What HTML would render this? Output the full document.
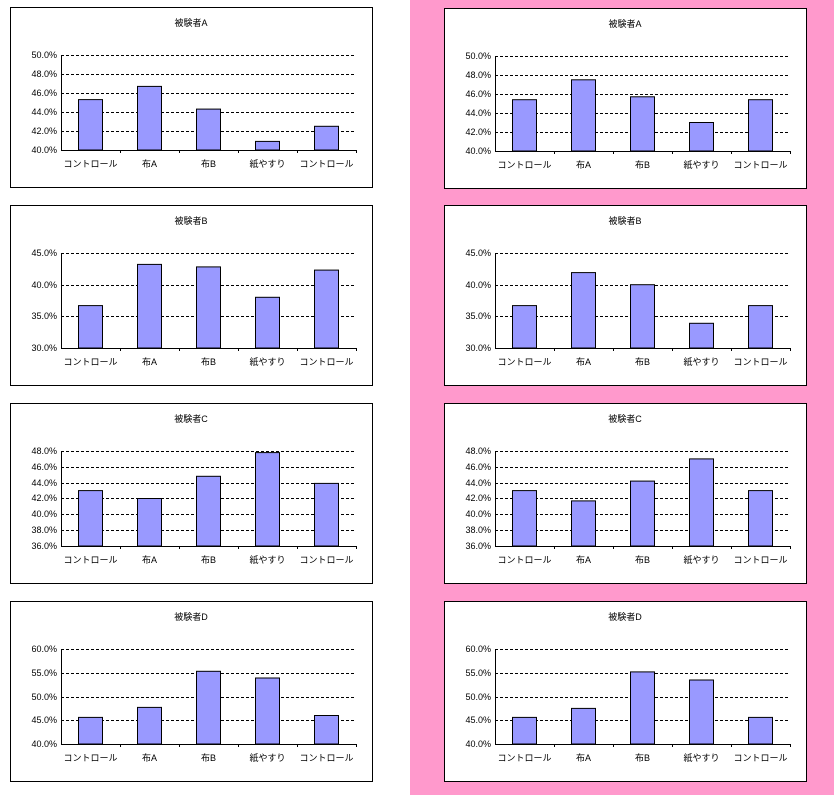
<!DOCTYPE html>
<html><head><meta charset="utf-8"><style>
html,body{margin:0;padding:0;background:#fff;}
body{width:834px;height:795px;position:relative;overflow:hidden;font-family:"Liberation Sans","Noto Sans CJK JP",sans-serif;}
.pink{position:absolute;left:410px;top:0;width:424px;height:795px;background:#ff99cc;}
svg{position:absolute;}
text{font-family:"Liberation Sans","Noto Sans CJK JP",sans-serif;font-size:9px;fill:#000;}
.g{stroke:#000;stroke-width:1;stroke-dasharray:3,2;}
.b{fill:#9999ff;stroke:#000;stroke-width:1;}
.a{stroke:#000;stroke-width:1;fill:none;}
</style></head><body>
<div class="pink"></div>

<!-- Left A -->
<svg style="left:10px;top:7px" width="363" height="181">
<rect x="0.5" y="0.5" width="362" height="180" fill="#fff" stroke="#000"/>
<text x="181" y="19" text-anchor="middle">被験者A</text>
<line class="g" x1="51" y1="48.5" x2="346" y2="48.5"/><line class="g" x1="51" y1="67.5" x2="346" y2="67.5"/><line class="g" x1="51" y1="86.5" x2="346" y2="86.5"/><line class="g" x1="51" y1="105.5" x2="346" y2="105.5"/><line class="g" x1="51" y1="124.5" x2="346" y2="124.5"/>
<text x="47" y="51" text-anchor="end">50.0%</text><text x="47" y="70" text-anchor="end">48.0%</text><text x="47" y="89" text-anchor="end">46.0%</text><text x="47" y="108" text-anchor="end">44.0%</text><text x="47" y="127" text-anchor="end">42.0%</text><text x="47" y="146" text-anchor="end">40.0%</text>
<rect class="b" x="68.5" y="92.6" width="24" height="50.4"/><rect class="b" x="127.5" y="79.4" width="24" height="63.6"/><rect class="b" x="186.5" y="102.1" width="24" height="40.9"/><rect class="b" x="245.5" y="134.4" width="24" height="8.6"/><rect class="b" x="304.5" y="119.3" width="24" height="23.7"/>
<path class="a" d="M51.5 48V143.5H346M110.5 143v3M169.5 143v3M228.5 143v3M287.5 143v3M346.5 143v3"/>
<text x="80.5" y="160" text-anchor="middle">コントロール</text><text x="139.5" y="160" text-anchor="middle">布A</text><text x="198.5" y="160" text-anchor="middle">布B</text><text x="257.5" y="160" text-anchor="middle">紙やすり</text><text x="316.5" y="160" text-anchor="middle">コントロール</text>
</svg>

<!-- Left B -->
<svg style="left:10px;top:205px" width="363" height="181">
<rect x="0.5" y="0.5" width="362" height="180" fill="#fff" stroke="#000"/>
<text x="181" y="19" text-anchor="middle">被験者B</text>
<line class="g" x1="51" y1="48.5" x2="346" y2="48.5"/><line class="g" x1="51" y1="80.5" x2="346" y2="80.5"/><line class="g" x1="51" y1="111.5" x2="346" y2="111.5"/>
<text x="47" y="51" text-anchor="end">45.0%</text><text x="47" y="83" text-anchor="end">40.0%</text><text x="47" y="114" text-anchor="end">35.0%</text><text x="47" y="146" text-anchor="end">30.0%</text>
<rect class="b" x="68.5" y="100.6" width="24" height="42.4"/><rect class="b" x="127.5" y="59.4" width="24" height="83.6"/><rect class="b" x="186.5" y="61.9" width="24" height="81.1"/><rect class="b" x="245.5" y="92.3" width="24" height="50.7"/><rect class="b" x="304.5" y="65.1" width="24" height="77.9"/>
<path class="a" d="M51.5 48V143.5H346M110.5 143v3M169.5 143v3M228.5 143v3M287.5 143v3M346.5 143v3"/>
<text x="80.5" y="160" text-anchor="middle">コントロール</text><text x="139.5" y="160" text-anchor="middle">布A</text><text x="198.5" y="160" text-anchor="middle">布B</text><text x="257.5" y="160" text-anchor="middle">紙やすり</text><text x="316.5" y="160" text-anchor="middle">コントロール</text>
</svg>

<!-- Left C -->
<svg style="left:10px;top:403px" width="363" height="181">
<rect x="0.5" y="0.5" width="362" height="180" fill="#fff" stroke="#000"/>
<text x="181" y="19" text-anchor="middle">被験者C</text>
<line class="g" x1="51" y1="48.5" x2="346" y2="48.5"/><line class="g" x1="51" y1="64.5" x2="346" y2="64.5"/><line class="g" x1="51" y1="80.5" x2="346" y2="80.5"/><line class="g" x1="51" y1="95.5" x2="346" y2="95.5"/><line class="g" x1="51" y1="111.5" x2="346" y2="111.5"/><line class="g" x1="51" y1="127.5" x2="346" y2="127.5"/>
<text x="47" y="51" text-anchor="end">48.0%</text><text x="47" y="67" text-anchor="end">46.0%</text><text x="47" y="83" text-anchor="end">44.0%</text><text x="47" y="98" text-anchor="end">42.0%</text><text x="47" y="114" text-anchor="end">40.0%</text><text x="47" y="130" text-anchor="end">38.0%</text><text x="47" y="146" text-anchor="end">36.0%</text>
<rect class="b" x="68.5" y="87.6" width="24" height="55.4"/><rect class="b" x="127.5" y="95.5" width="24" height="47.5"/><rect class="b" x="186.5" y="73.3" width="24" height="69.7"/><rect class="b" x="245.5" y="49.6" width="24" height="93.4"/><rect class="b" x="304.5" y="80.4" width="24" height="62.6"/>
<path class="a" d="M51.5 48V143.5H346M110.5 143v3M169.5 143v3M228.5 143v3M287.5 143v3M346.5 143v3"/>
<text x="80.5" y="160" text-anchor="middle">コントロール</text><text x="139.5" y="160" text-anchor="middle">布A</text><text x="198.5" y="160" text-anchor="middle">布B</text><text x="257.5" y="160" text-anchor="middle">紙やすり</text><text x="316.5" y="160" text-anchor="middle">コントロール</text>
</svg>

<!-- Left D -->
<svg style="left:10px;top:601px" width="363" height="181">
<rect x="0.5" y="0.5" width="362" height="180" fill="#fff" stroke="#000"/>
<text x="181" y="19" text-anchor="middle">被験者D</text>
<line class="g" x1="51" y1="48.5" x2="346" y2="48.5"/><line class="g" x1="51" y1="72.5" x2="346" y2="72.5"/><line class="g" x1="51" y1="96.5" x2="346" y2="96.5"/><line class="g" x1="51" y1="119.5" x2="346" y2="119.5"/>
<text x="47" y="51" text-anchor="end">60.0%</text><text x="47" y="75" text-anchor="end">55.0%</text><text x="47" y="99" text-anchor="end">50.0%</text><text x="47" y="122" text-anchor="end">45.0%</text><text x="47" y="146" text-anchor="end">40.0%</text>
<rect class="b" x="68.5" y="116.4" width="24" height="26.6"/><rect class="b" x="127.5" y="106.4" width="24" height="36.6"/><rect class="b" x="186.5" y="70.3" width="24" height="72.7"/><rect class="b" x="245.5" y="77" width="24" height="66"/><rect class="b" x="304.5" y="114.5" width="24" height="28.5"/>
<path class="a" d="M51.5 48V143.5H346M110.5 143v3M169.5 143v3M228.5 143v3M287.5 143v3M346.5 143v3"/>
<text x="80.5" y="160" text-anchor="middle">コントロール</text><text x="139.5" y="160" text-anchor="middle">布A</text><text x="198.5" y="160" text-anchor="middle">布B</text><text x="257.5" y="160" text-anchor="middle">紙やすり</text><text x="316.5" y="160" text-anchor="middle">コントロール</text>
</svg>

<!-- Right A -->
<svg style="left:444px;top:8px" width="363" height="181">
<rect x="0.5" y="0.5" width="362" height="180" fill="#fff" stroke="#000"/>
<text x="181" y="19" text-anchor="middle">被験者A</text>
<line class="g" x1="51" y1="48.5" x2="346" y2="48.5"/><line class="g" x1="51" y1="67.5" x2="346" y2="67.5"/><line class="g" x1="51" y1="86.5" x2="346" y2="86.5"/><line class="g" x1="51" y1="105.5" x2="346" y2="105.5"/><line class="g" x1="51" y1="124.5" x2="346" y2="124.5"/>
<text x="47" y="51" text-anchor="end">50.0%</text><text x="47" y="70" text-anchor="end">48.0%</text><text x="47" y="89" text-anchor="end">46.0%</text><text x="47" y="108" text-anchor="end">44.0%</text><text x="47" y="127" text-anchor="end">42.0%</text><text x="47" y="146" text-anchor="end">40.0%</text>
<rect class="b" x="68.5" y="91.7" width="24" height="51.3"/><rect class="b" x="127.5" y="71.8" width="24" height="71.2"/><rect class="b" x="186.5" y="88.8" width="24" height="54.2"/><rect class="b" x="245.5" y="114.5" width="24" height="28.5"/><rect class="b" x="304.5" y="91.7" width="24" height="51.3"/>
<path class="a" d="M51.5 48V143.5H346M110.5 143v3M169.5 143v3M228.5 143v3M287.5 143v3M346.5 143v3"/>
<text x="80.5" y="160" text-anchor="middle">コントロール</text><text x="139.5" y="160" text-anchor="middle">布A</text><text x="198.5" y="160" text-anchor="middle">布B</text><text x="257.5" y="160" text-anchor="middle">紙やすり</text><text x="316.5" y="160" text-anchor="middle">コントロール</text>
</svg>

<!-- Right B -->
<svg style="left:444px;top:205px" width="363" height="181">
<rect x="0.5" y="0.5" width="362" height="180" fill="#fff" stroke="#000"/>
<text x="181" y="19" text-anchor="middle">被験者B</text>
<line class="g" x1="51" y1="48.5" x2="346" y2="48.5"/><line class="g" x1="51" y1="80.5" x2="346" y2="80.5"/><line class="g" x1="51" y1="111.5" x2="346" y2="111.5"/>
<text x="47" y="51" text-anchor="end">45.0%</text><text x="47" y="83" text-anchor="end">40.0%</text><text x="47" y="114" text-anchor="end">35.0%</text><text x="47" y="146" text-anchor="end">30.0%</text>
<rect class="b" x="68.5" y="100.6" width="24" height="42.4"/><rect class="b" x="127.5" y="67.6" width="24" height="75.4"/><rect class="b" x="186.5" y="79.7" width="24" height="63.3"/><rect class="b" x="245.5" y="118.3" width="24" height="24.7"/><rect class="b" x="304.5" y="100.6" width="24" height="42.4"/>
<path class="a" d="M51.5 48V143.5H346M110.5 143v3M169.5 143v3M228.5 143v3M287.5 143v3M346.5 143v3"/>
<text x="80.5" y="160" text-anchor="middle">コントロール</text><text x="139.5" y="160" text-anchor="middle">布A</text><text x="198.5" y="160" text-anchor="middle">布B</text><text x="257.5" y="160" text-anchor="middle">紙やすり</text><text x="316.5" y="160" text-anchor="middle">コントロール</text>
</svg>

<!-- Right C -->
<svg style="left:444px;top:403px" width="363" height="181">
<rect x="0.5" y="0.5" width="362" height="180" fill="#fff" stroke="#000"/>
<text x="181" y="19" text-anchor="middle">被験者C</text>
<line class="g" x1="51" y1="48.5" x2="346" y2="48.5"/><line class="g" x1="51" y1="64.5" x2="346" y2="64.5"/><line class="g" x1="51" y1="80.5" x2="346" y2="80.5"/><line class="g" x1="51" y1="95.5" x2="346" y2="95.5"/><line class="g" x1="51" y1="111.5" x2="346" y2="111.5"/><line class="g" x1="51" y1="127.5" x2="346" y2="127.5"/>
<text x="47" y="51" text-anchor="end">48.0%</text><text x="47" y="67" text-anchor="end">46.0%</text><text x="47" y="83" text-anchor="end">44.0%</text><text x="47" y="98" text-anchor="end">42.0%</text><text x="47" y="114" text-anchor="end">40.0%</text><text x="47" y="130" text-anchor="end">38.0%</text><text x="47" y="146" text-anchor="end">36.0%</text>
<rect class="b" x="68.5" y="87.6" width="24" height="55.4"/><rect class="b" x="127.5" y="97.9" width="24" height="45.1"/><rect class="b" x="186.5" y="78.1" width="24" height="64.9"/><rect class="b" x="245.5" y="55.9" width="24" height="87.1"/><rect class="b" x="304.5" y="87.6" width="24" height="55.4"/>
<path class="a" d="M51.5 48V143.5H346M110.5 143v3M169.5 143v3M228.5 143v3M287.5 143v3M346.5 143v3"/>
<text x="80.5" y="160" text-anchor="middle">コントロール</text><text x="139.5" y="160" text-anchor="middle">布A</text><text x="198.5" y="160" text-anchor="middle">布B</text><text x="257.5" y="160" text-anchor="middle">紙やすり</text><text x="316.5" y="160" text-anchor="middle">コントロール</text>
</svg>

<!-- Right D -->
<svg style="left:444px;top:601px" width="363" height="181">
<rect x="0.5" y="0.5" width="362" height="180" fill="#fff" stroke="#000"/>
<text x="181" y="19" text-anchor="middle">被験者D</text>
<line class="g" x1="51" y1="48.5" x2="346" y2="48.5"/><line class="g" x1="51" y1="72.5" x2="346" y2="72.5"/><line class="g" x1="51" y1="96.5" x2="346" y2="96.5"/><line class="g" x1="51" y1="119.5" x2="346" y2="119.5"/>
<text x="47" y="51" text-anchor="end">60.0%</text><text x="47" y="75" text-anchor="end">55.0%</text><text x="47" y="99" text-anchor="end">50.0%</text><text x="47" y="122" text-anchor="end">45.0%</text><text x="47" y="146" text-anchor="end">40.0%</text>
<rect class="b" x="68.5" y="116.4" width="24" height="26.6"/><rect class="b" x="127.5" y="107.4" width="24" height="35.6"/><rect class="b" x="186.5" y="70.9" width="24" height="72.1"/><rect class="b" x="245.5" y="79" width="24" height="64"/><rect class="b" x="304.5" y="116.4" width="24" height="26.6"/>
<path class="a" d="M51.5 48V143.5H346M110.5 143v3M169.5 143v3M228.5 143v3M287.5 143v3M346.5 143v3"/>
<text x="80.5" y="160" text-anchor="middle">コントロール</text><text x="139.5" y="160" text-anchor="middle">布A</text><text x="198.5" y="160" text-anchor="middle">布B</text><text x="257.5" y="160" text-anchor="middle">紙やすり</text><text x="316.5" y="160" text-anchor="middle">コントロール</text>
</svg>
</body></html>
